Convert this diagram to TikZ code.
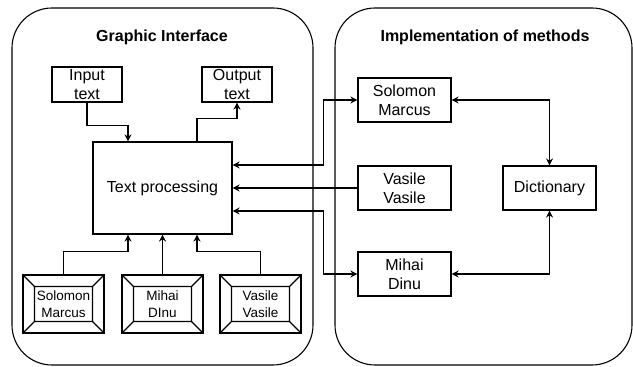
\documentclass[tikz,border=0pt]{standalone}
\usepackage{fontspec}
\setmainfont{Liberation Sans}
\usetikzlibrary{arrows, arrows.meta}

\begin{document}
\begin{tikzpicture}[x=1pt,y=1pt,line width=1.1pt,
  >={Stealth[length=7pt,width=7pt]},
  box/.style={draw,inner sep=0pt,align=center,font=\fontsize{16}{19}\selectfont},
  bevel/.style={box,minimum width=81pt,minimum height=58pt,font=\fontsize{13.5}{17}\selectfont,
    path picture={
      \draw (path picture bounding box.south west) -- ++(11.5,11.5)
        rectangle ([shift={(-11.5,-11.5)}]path picture bounding box.north east)
        -- (path picture bounding box.north east);
      \draw (path picture bounding box.north west) -- ++(11.5,-11.5);
      \draw (path picture bounding box.south east) -- ++(-11.5,11.5);
    }},
  panel/.style={draw,rounded corners=40pt},
  title/.style={font=\bfseries\fontsize{16}{19}\selectfont}]
\useasboundingbox (0,0) rectangle (633,367);
%\draw[step=10,gray,very thin] (0,0) grid (633,367);
\draw[panel] (12,2) rectangle (313,359);
\draw[panel] (335,2) rectangle (632,359);
\node[title] (gui) at (162,330) {Graphic Interface};
\node[title] (impl) at (485,330) {Implementation of methods};

\node[box,minimum width=70pt,minimum height=35pt] (in) at (87,282.5) {Input\\text};
\node[box,minimum width=70pt,minimum height=35pt] (out) at (237,282.5) {Output\\text};
\node[box,minimum width=139pt,minimum height=92pt] (tp) at (162.5,179) {Text processing};

\node[bevel] (sm1) at (63.5,63) {Solomon\\Marcus};
\node[bevel] (md1) at (162.5,63) {Mihai\\DInu};
\node[bevel] (vv1) at (260.5,63) {Vasile\\Vasile};

\node[box,minimum width=93pt,minimum height=44pt] (sm2) at (404.5,267) {Solomon\\Marcus};
\node[box,minimum width=93pt,minimum height=44pt] (vv2) at (404.5,179) {Vasile\\Vasile};
\node[box,minimum width=93pt,minimum height=44pt] (md2) at (404.5,93) {Mihai\\Dinu};
\node[box,minimum width=93pt,minimum height=44pt] (dict) at (549.5,179) {Dictionary};

\draw[->] (in.south) -- ++(0,-23) -| ([xshift=-34.5]tp.north);
\draw[->] ([xshift=34.5]tp.north) -- ++(0,23) -| (out.south);
\draw[->] (sm1.north) |- ++(64.5,23) -| ([xshift=-34.5]tp.south);
\draw[->] (md1.north) -- (tp.south);
\draw[->] (vv1.north) |- ++(-63.5,23) -| ([xshift=34.5]tp.south);

\draw[<->] ([yshift=23]tp.east) -- ++(91,0) |- (sm2.west);
\draw[->] (vv2.west) -- (tp.east);
\draw[<->] ([yshift=-23]tp.east) -- ++(91,0) |- (md2.west);
\draw[<->] (sm2.east) -| (dict.north);
\draw[<->] (md2.east) -| (dict.south);
\end{tikzpicture}
\end{document}
